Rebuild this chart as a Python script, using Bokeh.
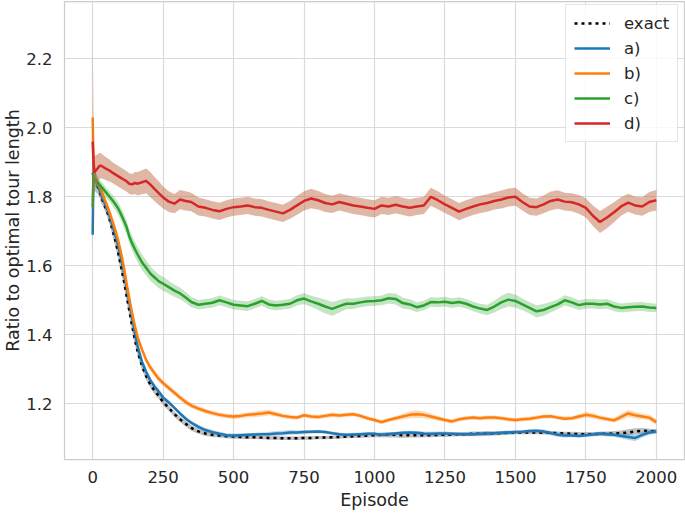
from bokeh.plotting import figure
from bokeh.models import Range1d, Legend, LegendItem, FixedTicker, NumeralTickFormatter
from bokeh.embed import file_html
from bokeh.resources import INLINE

# Episode sample positions
episodes = [0, 3, 6, 10, 15, 20, 25, 30, 40, 50, 60, 70, 80, 90, 100, 110, 120, 130, 140, 150,
            160, 175, 190, 205, 220, 235, 250, 270, 290, 310, 330, 350, 375, 400, 425, 450, 475] + \
           list(range(500, 2001, 25))

exact_y = [1.87, 1.86, 1.855, 1.845, 1.835, 1.825, 1.815, 1.80, 1.78, 1.76,
           1.735, 1.705, 1.675, 1.64, 1.60, 1.56, 1.515, 1.47, 1.425, 1.385,
           1.35, 1.31, 1.28, 1.255, 1.238, 1.222, 1.205, 1.188, 1.17, 1.155,
           1.142, 1.13, 1.12, 1.114, 1.11, 1.108, 1.106,
           1.105, 1.104, 1.103, 1.103, 1.102, 1.101, 1.101, 1.100, 1.100, 1.100,
           1.101, 1.101, 1.102, 1.102, 1.103, 1.104, 1.105, 1.106, 1.107, 1.108,
           1.109, 1.110, 1.110, 1.110, 1.109, 1.109, 1.109, 1.109, 1.109, 1.110,
           1.110, 1.111, 1.112, 1.112, 1.113, 1.113, 1.114, 1.114, 1.115, 1.116,
           1.117, 1.117, 1.117, 1.117, 1.116, 1.116, 1.115, 1.114, 1.113, 1.112,
           1.112, 1.112, 1.113, 1.113, 1.114, 1.115, 1.117, 1.120, 1.122, 1.121,
           1.120]
exact_err = [0.06, 0.05, 0.04, 0.03, 0.025, 0.02, 0.02, 0.018, 0.015, 0.015,
             0.016, 0.017, 0.018, 0.018, 0.018, 0.018, 0.017, 0.016, 0.015, 0.014,
             0.013, 0.012, 0.011, 0.010, 0.010, 0.009, 0.009, 0.008, 0.008, 0.008,
             0.008, 0.008, 0.007, 0.007, 0.006, 0.006, 0.006,
             0.006, 0.006, 0.005, 0.005, 0.005, 0.005, 0.005, 0.005, 0.005, 0.005,
             0.005, 0.005, 0.005, 0.005, 0.005, 0.005, 0.005, 0.005, 0.006, 0.006,
             0.006, 0.007, 0.008, 0.008, 0.008, 0.007, 0.007, 0.006, 0.006, 0.006,
             0.006, 0.006, 0.006, 0.006, 0.007, 0.007, 0.007, 0.006, 0.006, 0.006,
             0.005, 0.005, 0.005, 0.005, 0.005, 0.005, 0.005, 0.005, 0.006, 0.006,
             0.006, 0.006, 0.006, 0.007, 0.007, 0.008, 0.009, 0.009, 0.008, 0.007,
             0.006]

a_y = [1.69, 1.90, 1.86, 1.85, 1.84, 1.83, 1.818, 1.806, 1.787, 1.767,
       1.745, 1.718, 1.69, 1.66, 1.625, 1.585, 1.54, 1.495, 1.45, 1.405,
       1.365, 1.322, 1.292, 1.268, 1.25, 1.235, 1.218, 1.204, 1.188, 1.172,
       1.157, 1.145, 1.133, 1.124, 1.118, 1.113, 1.109,
       1.108, 1.109, 1.110, 1.111, 1.112, 1.112, 1.114, 1.115, 1.117, 1.117,
       1.118, 1.119, 1.120, 1.118, 1.115, 1.112, 1.110, 1.111, 1.112, 1.113,
       1.113, 1.110, 1.112, 1.114, 1.116, 1.117, 1.116, 1.114, 1.113, 1.114,
       1.114, 1.113, 1.112, 1.112, 1.112, 1.113, 1.114, 1.115, 1.116, 1.117,
       1.118, 1.119, 1.121, 1.122, 1.120, 1.115, 1.110, 1.108, 1.108, 1.107,
       1.109, 1.111, 1.114, 1.112, 1.110, 1.107, 1.104, 1.101, 1.110, 1.117,
       1.120]
a_err = [0.02, 0.015, 0.012, 0.01, 0.009, 0.008, 0.008, 0.008, 0.008, 0.008,
         0.008, 0.008, 0.008, 0.008, 0.008, 0.008, 0.008, 0.008, 0.007, 0.007,
         0.007, 0.007, 0.006, 0.006, 0.006, 0.006, 0.006, 0.006, 0.006, 0.006,
         0.006, 0.006, 0.006, 0.006, 0.006, 0.006, 0.006,
         0.006, 0.006, 0.005, 0.005, 0.005, 0.006, 0.007, 0.007, 0.007, 0.006,
         0.006, 0.005, 0.005, 0.005, 0.005, 0.005, 0.005, 0.005, 0.005, 0.005,
         0.005, 0.005, 0.005, 0.005, 0.005, 0.005, 0.005, 0.006, 0.006, 0.006,
         0.006, 0.005, 0.005, 0.005, 0.005, 0.005, 0.005, 0.005, 0.005, 0.005,
         0.005, 0.005, 0.005, 0.005, 0.006, 0.006, 0.006, 0.006, 0.005, 0.005,
         0.005, 0.005, 0.005, 0.006, 0.006, 0.007, 0.009, 0.009, 0.008, 0.007,
         0.006]

b_y = [2.03, 1.88, 1.86, 1.852, 1.845, 1.837, 1.828, 1.818, 1.798, 1.777,
       1.755, 1.73, 1.705, 1.675, 1.64, 1.60, 1.55, 1.505, 1.463, 1.425,
       1.392, 1.357, 1.327, 1.305, 1.288, 1.272, 1.26, 1.246, 1.232, 1.218,
       1.205, 1.195, 1.186, 1.179, 1.173, 1.168, 1.165,
       1.163, 1.165, 1.168, 1.170, 1.172, 1.175, 1.170, 1.165, 1.162, 1.160,
       1.167, 1.163, 1.162, 1.165, 1.168, 1.166, 1.168, 1.170, 1.165, 1.158,
       1.153, 1.147, 1.153, 1.158, 1.163, 1.168, 1.170, 1.168, 1.163, 1.158,
       1.153, 1.149, 1.155, 1.158, 1.160, 1.158, 1.160, 1.160, 1.158, 1.155,
       1.153, 1.155, 1.157, 1.160, 1.163, 1.164, 1.160, 1.157, 1.158, 1.163,
       1.168, 1.165, 1.160, 1.156, 1.152, 1.162, 1.172, 1.167, 1.163, 1.160,
       1.147]
b_err = [0.03, 0.02, 0.015, 0.012, 0.01, 0.01, 0.01, 0.01, 0.01, 0.01,
         0.01, 0.01, 0.01, 0.01, 0.01, 0.01, 0.01, 0.01, 0.009, 0.009,
         0.009, 0.009, 0.009, 0.009, 0.009, 0.009, 0.008, 0.008, 0.008, 0.008,
         0.008, 0.007, 0.007, 0.007, 0.007, 0.007, 0.007,
         0.007, 0.007, 0.007, 0.008, 0.009, 0.008, 0.007, 0.006, 0.006, 0.006,
         0.006, 0.006, 0.006, 0.006, 0.007, 0.006, 0.006, 0.006, 0.006, 0.006,
         0.006, 0.006, 0.006, 0.007, 0.008, 0.010, 0.011, 0.010, 0.008, 0.007,
         0.006, 0.006, 0.006, 0.006, 0.006, 0.006, 0.006, 0.006, 0.006, 0.006,
         0.006, 0.006, 0.006, 0.006, 0.006, 0.006, 0.006, 0.006, 0.006, 0.007,
         0.008, 0.008, 0.007, 0.006, 0.007, 0.009, 0.010, 0.009, 0.008, 0.008,
         0.008]

c_y = [1.77, 1.87, 1.855, 1.85, 1.845, 1.84, 1.835, 1.83, 1.82, 1.81,
       1.80, 1.79, 1.779, 1.767, 1.75, 1.732, 1.713, 1.685, 1.665, 1.648,
       1.632, 1.61, 1.594, 1.577, 1.566, 1.555, 1.548, 1.538, 1.528, 1.52,
       1.508, 1.495, 1.487, 1.49, 1.493, 1.50, 1.494,
       1.487, 1.485, 1.483, 1.490, 1.498, 1.488, 1.485, 1.487, 1.490, 1.500,
       1.505, 1.497, 1.490, 1.482, 1.475, 1.483, 1.490, 1.490, 1.494, 1.497,
       1.498, 1.500, 1.506, 1.504, 1.492, 1.488, 1.480, 1.485, 1.495, 1.494,
       1.496, 1.492, 1.495, 1.490, 1.482, 1.476, 1.472, 1.482, 1.494, 1.502,
       1.498, 1.488, 1.478, 1.468, 1.472, 1.480, 1.488, 1.500, 1.494, 1.486,
       1.490, 1.490, 1.488, 1.490, 1.482, 1.478, 1.480, 1.481, 1.482, 1.479,
       1.478]
c_err = [0.04, 0.03, 0.025, 0.02, 0.018, 0.016, 0.015, 0.015, 0.015, 0.015,
         0.015, 0.016, 0.017, 0.018, 0.019, 0.02, 0.02, 0.02, 0.021, 0.022,
         0.022, 0.022, 0.022, 0.021, 0.02, 0.02, 0.02, 0.019, 0.018, 0.017,
         0.016, 0.015, 0.014, 0.014, 0.014, 0.014, 0.014,
         0.014, 0.014, 0.014, 0.014, 0.014, 0.014, 0.014, 0.014, 0.014, 0.015,
         0.016, 0.016, 0.018, 0.02, 0.02, 0.018, 0.016, 0.015, 0.014, 0.014,
         0.014, 0.014, 0.015, 0.016, 0.016, 0.015, 0.014, 0.014, 0.014, 0.014,
         0.014, 0.014, 0.014, 0.014, 0.014, 0.014, 0.015, 0.017, 0.019, 0.02,
         0.019, 0.017, 0.016, 0.018, 0.017, 0.015, 0.014, 0.015, 0.015, 0.014,
         0.014, 0.014, 0.014, 0.014, 0.014, 0.013, 0.013, 0.013, 0.013, 0.013,
         0.012]

d_y = [1.96, 1.90, 1.87, 1.875, 1.88, 1.885, 1.89, 1.89, 1.885, 1.88,
       1.876, 1.87, 1.865, 1.86, 1.855, 1.85, 1.845, 1.838, 1.836, 1.84,
       1.838, 1.842, 1.846, 1.835, 1.822, 1.81, 1.798, 1.786, 1.78, 1.792,
       1.788, 1.785, 1.772, 1.768, 1.762, 1.758, 1.765,
       1.770, 1.772, 1.775, 1.770, 1.768, 1.762, 1.757, 1.752, 1.762, 1.775,
       1.788, 1.795, 1.790, 1.782, 1.778, 1.785, 1.780, 1.775, 1.772, 1.768,
       1.765, 1.775, 1.772, 1.777, 1.772, 1.768, 1.772, 1.775, 1.800, 1.790,
       1.778, 1.768, 1.757, 1.765, 1.772, 1.778, 1.782, 1.788, 1.792, 1.798,
       1.800, 1.785, 1.772, 1.770, 1.778, 1.788, 1.792, 1.786, 1.784, 1.778,
       1.768, 1.745, 1.727, 1.740, 1.755, 1.772, 1.783, 1.775, 1.772, 1.785,
       1.790]
d_err = [0.32, 0.12, 0.05, 0.045, 0.042, 0.04, 0.038, 0.036, 0.034, 0.033,
         0.032, 0.03, 0.03, 0.03, 0.03, 0.03, 0.03, 0.03, 0.03, 0.032,
         0.034, 0.035, 0.036, 0.036, 0.035, 0.034, 0.032, 0.03, 0.028, 0.028,
         0.028, 0.027, 0.026, 0.025, 0.025, 0.025, 0.025,
         0.025, 0.025, 0.025, 0.025, 0.025, 0.025, 0.025, 0.025, 0.026, 0.027,
         0.028, 0.028, 0.027, 0.026, 0.025, 0.025, 0.025, 0.025, 0.025, 0.025,
         0.025, 0.025, 0.025, 0.025, 0.025, 0.025, 0.025, 0.025, 0.026, 0.026,
         0.025, 0.025, 0.025, 0.025, 0.025, 0.025, 0.025, 0.025, 0.026, 0.026,
         0.026, 0.025, 0.025, 0.025, 0.026, 0.027, 0.027, 0.026, 0.026, 0.027,
         0.028, 0.030, 0.032, 0.031, 0.029, 0.027, 0.026, 0.026, 0.027, 0.029,
         0.030]

x_ticks = [0, 250, 500, 750, 1000, 1250, 1500, 1750, 2000]
y_ticks = [1.2, 1.4, 1.6, 1.8, 2.0, 2.2]

FONT = "DejaVu Sans"
TXT = "#262626"

p = figure(width=685, height=515, output_backend="svg", toolbar_location=None,
           x_range=Range1d(-100, 2100), y_range=Range1d(1.0386, 2.366),
           min_border_left=63, min_border_right=1, min_border_top=1, min_border_bottom=56)

p.background_fill_color = "white"
p.border_fill_color = "white"
p.outline_line_color = "#cccccc"
p.outline_line_width = 1.25
p.grid.grid_line_color = "#dadada"
p.grid.grid_line_width = 1.2
p.xgrid.ticker = FixedTicker(ticks=x_ticks)
p.ygrid.ticker = FixedTicker(ticks=y_ticks)

p.xaxis.ticker = FixedTicker(ticks=x_ticks)
p.yaxis.ticker = FixedTicker(ticks=y_ticks)
p.yaxis.formatter = NumeralTickFormatter(format="0.0")
for ax in (p.xaxis, p.yaxis):
    ax.axis_line_color = None
    ax.major_tick_line_color = None
    ax.minor_tick_line_color = None
    ax.major_tick_out = 0
    ax.major_tick_in = 0
    ax.minor_tick_out = 0
    ax.minor_tick_in = 0
    ax.major_label_text_font = FONT
    ax.major_label_text_font_size = "16.5px"
    ax.major_label_text_color = TXT
    ax.axis_label_text_font = FONT
    ax.axis_label_text_font_size = "17.5px"
    ax.axis_label_text_font_style = "normal"
    ax.axis_label_text_color = TXT
p.xaxis.major_label_standoff = 11
p.xaxis.axis_label_standoff = 4
p.yaxis.major_label_standoff = 12
p.yaxis.axis_label_standoff = 0
p.xaxis.axis_label = "Episode"
p.yaxis.axis_label = "Ratio to optimal tour length"

series = [
    ("exact", exact_y, exact_err, "black", "#7f7f7f", 0.5, "3 4"),
    ("a)", a_y, a_err, "#1f77b4", "#1f77b4", 0.3, "solid"),
    ("b)", b_y, b_err, "#ff7f0e", "#ff7f0e", 0.3, "solid"),
    ("c)", c_y, c_err, "#2ca02c", "#2ca02c", 0.28, "solid"),
    ("d)", d_y, d_err, "#d62728", "#c0704a", 0.5, "solid"),
]

items = []
for label, ys, errs, lc, fc, fa, dash in series:
    lo = [y - e for y, e in zip(ys, errs)]
    hi = [y + e for y, e in zip(ys, errs)]
    p.varea(x=episodes, y1=lo, y2=hi, fill_color=fc, fill_alpha=fa)
    r = p.line(x=episodes, y=ys, line_color=lc, line_width=2.5, line_dash=dash)
    items.append(LegendItem(label=label, renderers=[r]))

legend = Legend(items=items, location=(501, 317))
legend.label_text_font = FONT
legend.label_text_font_size = "16.5px"
legend.label_text_color = TXT
legend.glyph_width = 36
legend.glyph_height = 20
legend.label_standoff = 14
legend.spacing = 5
legend.padding = 8
legend.margin = 0
legend.border_line_color = "#cccccc"
legend.border_line_width = 1
legend.background_fill_alpha = 0.8
p.add_layout(legend)

open("out.html", "w").write(file_html(p, INLINE))
